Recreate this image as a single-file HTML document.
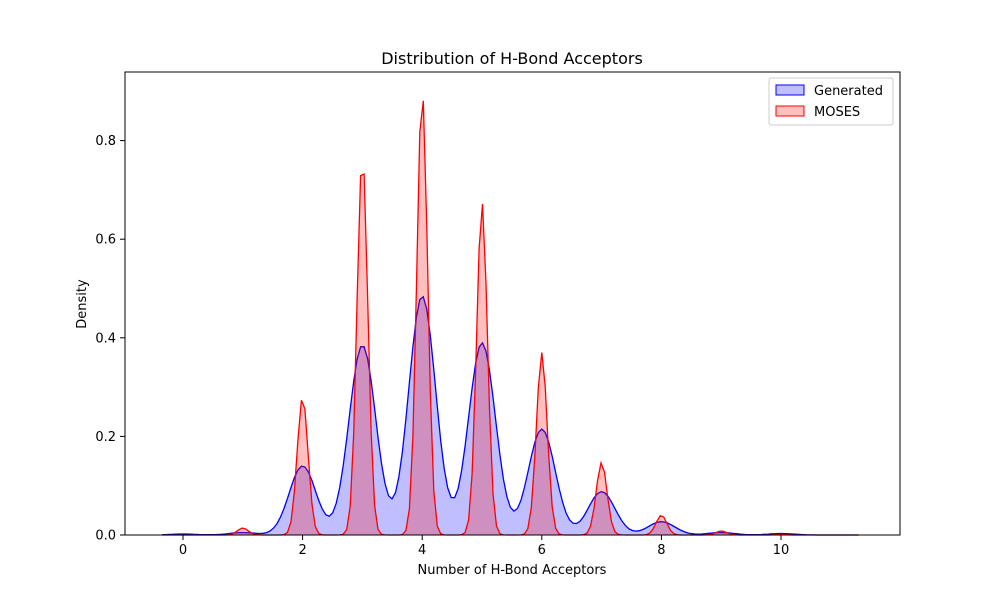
<!DOCTYPE html>
<html><head><meta charset="utf-8"><style>
body{margin:0;background:#fff;font-family:"Liberation Sans","DejaVu Sans",sans-serif}
</style></head><body>
<svg id="chart" width="1000" height="600" xmlns="http://www.w3.org/2000/svg" font-family="DejaVu Sans, Liberation Sans, sans-serif">
<rect width="1000" height="600" fill="#fff"/>
<text x="512" y="64" text-anchor="middle" font-size="16">Distribution of H-Bond Acceptors</text>
<g id="plot"></g>
<rect x="125" y="72" width="775" height="463" fill="none" stroke="#000" stroke-width="1"/>
<g id="xt"></g><g id="yt"></g>
<text x="512" y="574" text-anchor="middle" font-size="13">Number of H-Bond Acceptors</text>
<text transform="translate(86,304) rotate(-90)" text-anchor="middle" font-size="13">Density</text>
<g>
<rect x="769" y="78" width="124" height="47" rx="2" fill="#fff" stroke="#ccc"/>
<rect x="776" y="85" width="28" height="10" fill="rgba(0,0,255,0.25)" stroke="#00f"/>
<text x="814" y="95" font-size="13">Generated</text>
<rect x="776" y="106" width="28" height="10" fill="rgba(255,0,0,0.25)" stroke="#f00"/>
<text x="814" y="116" font-size="13">MOSES</text>
</g>
</svg>
<script>
var categories=[0,1,2,3,4,5,6,7,8,9,10];
var generatedPeaks=[0.002,0.005,0.14,0.385,0.485,0.39,0.215,0.088,0.027,0.005,0.003];
var mosesPeaks=[0.0,0.014,0.28,0.77,0.9,0.675,0.37,0.147,0.04,0.008,0.001];
var xTicks=[0,2,4,6,8,10];
var yTicks=[0,0.2,0.4,0.6,0.8];
var SVGNS="http://www.w3.org/2000/svg";
function xScale(v){return 183+v*59.8;}
function yScale(v){return 535-v*493;}
function dens(peaks,s,x){var d=0;for(var i=0;i<categories.length;i++){d+=peaks[i]*Math.exp(-(x-categories[i])*(x-categories[i])/(2*s*s));}return d;}
function drawCurve(peaks,s,color,nm){
  var x0=-0.35,x1=11.3,n=200,parts=[];
  for(var i=0;i<=n;i++){var x=x0+(x1-x0)*i/n;parts.push(xScale(x).toFixed(1)+","+yScale(dens(peaks,s,x)).toFixed(1));}
  var line=parts.join(" ");
  var g=document.getElementById("plot");
  var area=document.createElementNS(SVGNS,"polygon");
  area.setAttribute("points",xScale(x0)+","+yScale(0)+" "+line+" "+xScale(x1)+","+yScale(0));
  area.setAttribute("fill",color);
  area.setAttribute("fill-opacity","0.25");
  
  
  g.appendChild(area);
  var pl=document.createElementNS(SVGNS,"polyline");
  pl.setAttribute("points",line);
  pl.setAttribute("fill","none");
  pl.setAttribute("stroke",color);
  pl.setAttribute("stroke-width","1.3");
  
  
  g.appendChild(pl);
}
function drawAxes(){
  var xt=document.getElementById("xt");
  for(var i=0;i<xTicks.length;i++){
    var v=xTicks[i];
    var l=document.createElementNS(SVGNS,"line");
    l.setAttribute("x1",xScale(v));l.setAttribute("x2",xScale(v));l.setAttribute("y1",535);l.setAttribute("y2",540);l.setAttribute("stroke","#000");
    
    
    xt.appendChild(l);
    var t=document.createElementNS(SVGNS,"text");
    t.setAttribute("x",xScale(v));t.setAttribute("y",554);t.setAttribute("text-anchor","middle");t.setAttribute("font-size","13");
    t.textContent=String(v);
    
    
    xt.appendChild(t);
  }
  var yt=document.getElementById("yt");
  for(var j=0;j<yTicks.length;j++){
    var w=yTicks[j];
    var l2=document.createElementNS(SVGNS,"line");
    l2.setAttribute("x1",120);l2.setAttribute("x2",125);l2.setAttribute("y1",yScale(w));l2.setAttribute("y2",yScale(w));l2.setAttribute("stroke","#000");
    
    
    yt.appendChild(l2);
    var t2=document.createElementNS(SVGNS,"text");
    t2.setAttribute("x",116);t2.setAttribute("y",yScale(w)+4.5);t2.setAttribute("text-anchor","end");t2.setAttribute("font-size","13");
    t2.textContent=w.toFixed(1);
    
    
    yt.appendChild(t2);
  }
}
drawCurve(generatedPeaks,0.225,"#0000ff","generated");
drawCurve(mosesPeaks,0.09,"#ff0000","moses");
drawAxes();
</script>
</body></html>
